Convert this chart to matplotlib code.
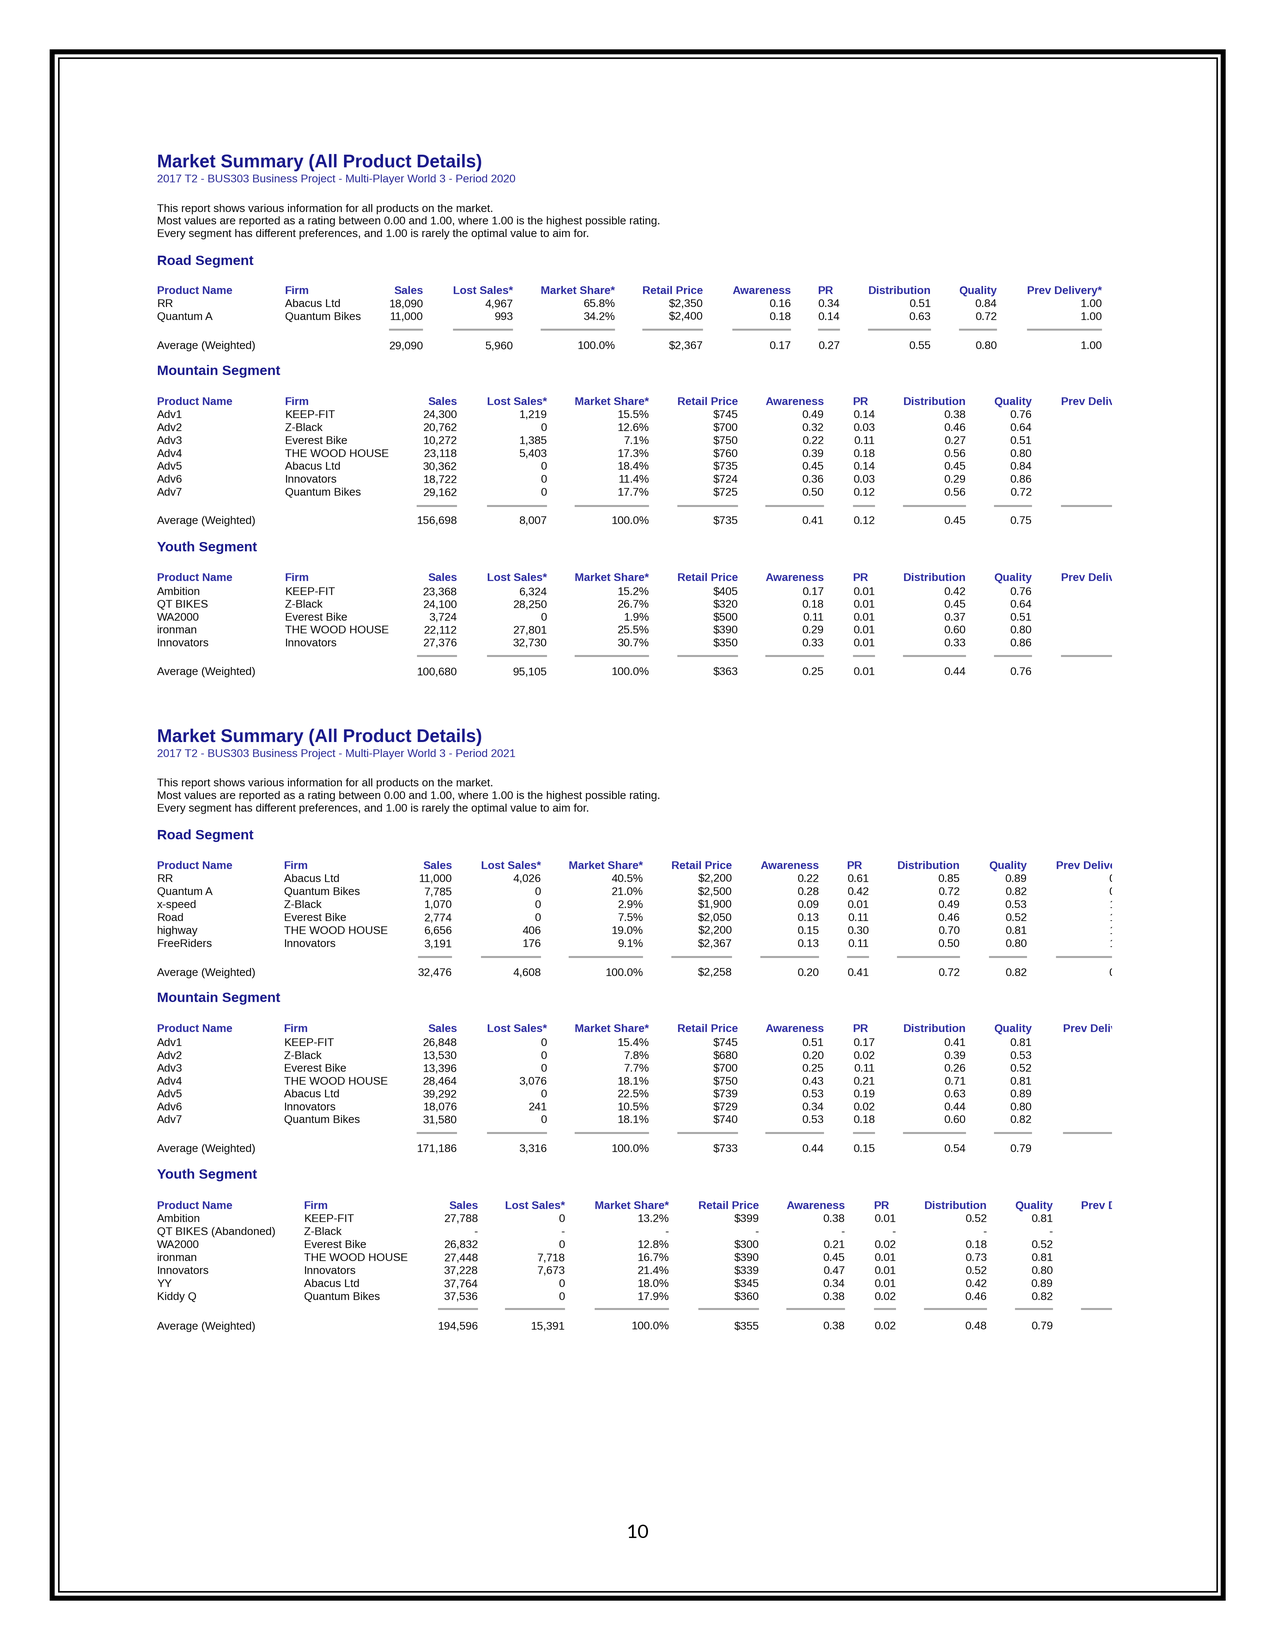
import matplotlib
matplotlib.use("Agg")
import matplotlib.pyplot as plt
from matplotlib.patches import Rectangle
from PIL import Image

# ---------------- data ----------------
columns = ["Sales", "Lost Sales*", "Market Share*", "Retail Price", "Awareness",
           "PR", "Distribution", "Quality", "Prev Delivery*"]

titles = ["Market Summary (All Product Details)", "Market Summary (All Product Details)"]
subtitles = ["2017 T2 - BUS303 Business Project - Multi-Player World 3 - Period 2020",
             "2017 T2 - BUS303 Business Project - Multi-Player World 3 - Period 2021"]
description = ["This report shows various information for all products on the market.",
               "Most values are reported as a rating between 0.00 and 1.00, where 1.00 is the highest possible rating.",
               "Every segment has different preferences, and 1.00 is rarely the optimal value to aim for."]
segments = ["Road Segment", "Mountain Segment", "Youth Segment"]

# --- Period 2020, Road ---
road20_products = ["RR", "Quantum A"]
road20_firms = ["Abacus Ltd", "Quantum Bikes"]
road20_sales = [18090, 11000]
road20_lost = [4967, 993]
road20_share = [65.8, 34.2]
road20_price = [2350, 2400]
road20_aware = [0.16, 0.18]
road20_pr = [0.34, 0.14]
road20_dist = [0.51, 0.63]
road20_qual = [0.84, 0.72]
road20_prev = [1.00, 1.00]
road20_avg = [29090, 5960, 100.0, 2367, 0.17, 0.27, 0.55, 0.80, 1.00]

# --- Period 2020, Mountain ---
mtn20_products = ["Adv1", "Adv2", "Adv3", "Adv4", "Adv5", "Adv6", "Adv7"]
mtn20_firms = ["KEEP-FIT", "Z-Black", "Everest Bike", "THE WOOD HOUSE", "Abacus Ltd", "Innovators", "Quantum Bikes"]
mtn20_sales = [24300, 20762, 10272, 23118, 30362, 18722, 29162]
mtn20_lost = [1219, 0, 1385, 5403, 0, 0, 0]
mtn20_share = [15.5, 12.6, 7.1, 17.3, 18.4, 11.4, 17.7]
mtn20_price = [745, 700, 750, 760, 735, 724, 725]
mtn20_aware = [0.49, 0.32, 0.22, 0.39, 0.45, 0.36, 0.50]
mtn20_pr = [0.14, 0.03, 0.11, 0.18, 0.14, 0.03, 0.12]
mtn20_dist = [0.38, 0.46, 0.27, 0.56, 0.45, 0.29, 0.56]
mtn20_qual = [0.76, 0.64, 0.51, 0.80, 0.84, 0.86, 0.72]
mtn20_avg = [156698, 8007, 100.0, 735, 0.41, 0.12, 0.45, 0.75, None]

# --- Period 2020, Youth ---
youth20_products = ["Ambition", "QT BIKES", "WA2000", "ironman", "Innovators"]
youth20_firms = ["KEEP-FIT", "Z-Black", "Everest Bike", "THE WOOD HOUSE", "Innovators"]
youth20_sales = [23368, 24100, 3724, 22112, 27376]
youth20_lost = [6324, 28250, 0, 27801, 32730]
youth20_share = [15.2, 26.7, 1.9, 25.5, 30.7]
youth20_price = [405, 320, 500, 390, 350]
youth20_aware = [0.17, 0.18, 0.11, 0.29, 0.33]
youth20_pr = [0.01, 0.01, 0.01, 0.01, 0.01]
youth20_dist = [0.42, 0.45, 0.37, 0.60, 0.33]
youth20_qual = [0.76, 0.64, 0.51, 0.80, 0.86]
youth20_avg = [100680, 95105, 100.0, 363, 0.25, 0.01, 0.44, 0.76, None]

# --- Period 2021, Road ---
road21_products = ["RR", "Quantum A", "x-speed", "Road", "highway", "FreeRiders"]
road21_firms = ["Abacus Ltd", "Quantum Bikes", "Z-Black", "Everest Bike", "THE WOOD HOUSE", "Innovators"]
road21_sales = [11000, 7785, 1070, 2774, 6656, 3191]
road21_lost = [4026, 0, 0, 0, 406, 176]
road21_share = [40.5, 21.0, 2.9, 7.5, 19.0, 9.1]
road21_price = [2200, 2500, 1900, 2050, 2200, 2367]
road21_aware = [0.22, 0.28, 0.09, 0.13, 0.15, 0.13]
road21_pr = [0.61, 0.42, 0.01, 0.11, 0.30, 0.11]
road21_dist = [0.85, 0.72, 0.49, 0.46, 0.70, 0.50]
road21_qual = [0.89, 0.82, 0.53, 0.52, 0.81, 0.80]
road21_prev = [0.96, 0.98, 1.00, 1.00, 1.00, 1.00]
road21_avg = [32476, 4608, 100.0, 2258, 0.20, 0.41, 0.72, 0.82, 0.98]

# --- Period 2021, Mountain ---
mtn21_products = ["Adv1", "Adv2", "Adv3", "Adv4", "Adv5", "Adv6", "Adv7"]
mtn21_firms = ["KEEP-FIT", "Z-Black", "Everest Bike", "THE WOOD HOUSE", "Abacus Ltd", "Innovators", "Quantum Bikes"]
mtn21_sales = [26848, 13530, 13396, 28464, 39292, 18076, 31580]
mtn21_lost = [0, 0, 0, 3076, 0, 241, 0]
mtn21_share = [15.4, 7.8, 7.7, 18.1, 22.5, 10.5, 18.1]
mtn21_price = [745, 680, 700, 750, 739, 729, 740]
mtn21_aware = [0.51, 0.20, 0.25, 0.43, 0.53, 0.34, 0.53]
mtn21_pr = [0.17, 0.02, 0.11, 0.21, 0.19, 0.02, 0.18]
mtn21_dist = [0.41, 0.39, 0.26, 0.71, 0.63, 0.44, 0.60]
mtn21_qual = [0.81, 0.53, 0.52, 0.81, 0.89, 0.80, 0.82]
mtn21_avg = [171186, 3316, 100.0, 733, 0.44, 0.15, 0.54, 0.79, None]

# --- Period 2021, Youth ---
youth21_products = ["Ambition", "QT BIKES (Abandoned)", "WA2000", "ironman", "Innovators", "YY", "Kiddy Q"]
youth21_firms = ["KEEP-FIT", "Z-Black", "Everest Bike", "THE WOOD HOUSE", "Innovators", "Abacus Ltd", "Quantum Bikes"]
youth21_sales = [27788, None, 26832, 27448, 37228, 37764, 37536]
youth21_lost = [0, None, 0, 7718, 7673, 0, 0]
youth21_share = [13.2, None, 12.8, 16.7, 21.4, 18.0, 17.9]
youth21_price = [399, None, 300, 390, 339, 345, 360]
youth21_aware = [0.38, None, 0.21, 0.45, 0.47, 0.34, 0.38]
youth21_pr = [0.01, None, 0.02, 0.01, 0.01, 0.01, 0.02]
youth21_dist = [0.52, None, 0.18, 0.73, 0.52, 0.42, 0.46]
youth21_qual = [0.81, None, 0.52, 0.81, 0.80, 0.89, 0.82]
youth21_avg = [194596, 15391, 100.0, 355, 0.38, 0.02, 0.48, 0.79, None]

page_number = "10"

# ---------------- figure ----------------
W, H = 1275, 1650
CLIP_X = 1112
SS = 3  # supersampling factor for smooth, evenly placed text
fig = plt.figure(figsize=(W / 100, H / 100), dpi=100)
fig.patch.set_facecolor("white")
ax = fig.add_axes([0, 0, 1, 1])
ax.set_xlim(0, W); ax.set_ylim(H, 0); ax.axis("off")
tax = fig.add_axes([0, 0, CLIP_X / W, 1])
tax.set_xlim(0, CLIP_X); tax.set_ylim(H, 0); tax.axis("off")

FONT = "Liberation Sans"
TITLE_C = "#1b1b8c"
HEAD_C = "#2f2fa2"
SUB_C = "#2a2a98"
BODY_C = "#0a0a0a"
LINE_C = "#a6a6a6"

hdr = dict(fontsize=8, fontweight="bold", color=HEAD_C, family=FONT, va="baseline", clip_on=True)
body = dict(fontsize=8, color=BODY_C, family=FONT, va="baseline", clip_on=True)


def f_int(v):
    return f"{v:,}"


def f_pct(v):
    return f"{v:.1f}%"


def f_usd(v):
    return f"${v:,}"


def f_rate(v):
    return f"{v:.2f}"


formatters = [f_int, f_int, f_pct, f_usd, f_rate, f_rate, f_rate, f_rate, f_rate]


def fmt(i, v):
    return "-" if v is None else formatters[i](v)


# page border
ax.add_patch(Rectangle((52, 51.5), 1223 - 52, 1598 - 51.5, fill=False, lw=3.6, ec="black"))
ax.add_patch(Rectangle((58.5, 58), 1217 - 58.5, 1591.5 - 58, fill=False, lw=1.1, ec="black"))


def draw_header_block(k, dy):
    ax.text(157, 167.5 + dy, titles[k], fontsize=13.1, fontweight="bold", color=TITLE_C,
            family=FONT, va="baseline")
    ax.text(157, 182.5 + dy, subtitles[k], fontsize=8.05, color=SUB_C, family=FONT, va="baseline")
    for j, line in enumerate(description):
        ax.text(157, 212 + dy + 12.5 * j, line, fontsize=8.05, color=BODY_C, family=FONT, va="baseline")


pending_lines = []


def draw_table(seg, seg_y, products, firms, series, avg, layout):
    ax.text(157, seg_y, segments[seg], fontsize=9.95, fontweight="bold", color=TITLE_C,
            family=FONT, va="baseline")
    px, fx = layout["product"], layout["firm"]
    rights = layout["rights"]
    yh = layout["y_head"]
    tax.text(px, yh, "Product Name", ha="left", **hdr)
    tax.text(fx, yh, "Firm", ha="left", **hdr)
    col_texts = []
    for i, name in enumerate(columns):
        if name == "PR":
            t = tax.text(layout["pr_left"], yh, name, ha="left", **hdr)
        else:
            t = tax.text(rights[i], yh, name, ha="right", **hdr)
        col_texts.append([t])
    for j, (p, f) in enumerate(zip(products, firms)):
        y = layout["y_row0"] + j * layout["dy"]
        tax.text(px, y, p, ha="left", **body)
        tax.text(fx, y, f, ha="left", **body)
        for i in range(len(columns)):
            vals = series[i]
            if not vals:
                continue
            col_texts[i].append(tax.text(rights[i], y, fmt(i, vals[j]), ha="right", **body))
    ya = layout["y_avg"]
    tax.text(px, ya, "Average (Weighted)", ha="left", **body)
    for i in range(len(columns)):
        if avg[i] is not None:
            col_texts[i].append(tax.text(rights[i], ya, fmt(i, avg[i]), ha="right", **body))
    pending_lines.append((col_texts, layout["y_line"]))


# ---- block 2020 ----
draw_header_block(0, 0)
draw_table(0, 265,
           road20_products, road20_firms,
           [road20_sales, road20_lost, road20_share, road20_price, road20_aware,
            road20_pr, road20_dist, road20_qual, road20_prev], road20_avg,
           dict(product=157, firm=285, rights=[423, 513, 615, 703, 791, 840, 931, 997, 1102],
                pr_left=818, y_head=294, y_row0=307, dy=13, y_line=329.5, y_avg=349))
draw_table(1, 375,
           mtn20_products, mtn20_firms,
           [mtn20_sales, mtn20_lost, mtn20_share, mtn20_price, mtn20_aware,
            mtn20_pr, mtn20_dist, mtn20_qual, []], mtn20_avg,
           dict(product=157, firm=285, rights=[457, 547, 649, 738, 824, 875, 966, 1032, 1136],
                pr_left=853, y_head=405, y_row0=418, dy=12.95, y_line=506, y_avg=524))
draw_table(2, 551.5,
           youth20_products, youth20_firms,
           [youth20_sales, youth20_lost, youth20_share, youth20_price, youth20_aware,
            youth20_pr, youth20_dist, youth20_qual, []], youth20_avg,
           dict(product=157, firm=285, rights=[457, 547, 649, 738, 824, 875, 966, 1032, 1136],
                pr_left=853, y_head=581, y_row0=595, dy=12.8, y_line=656, y_avg=675))

# ---- block 2021 ----
OFF = 574.5
draw_header_block(1, OFF)
draw_table(0, 839.5,
           road21_products, road21_firms,
           [road21_sales, road21_lost, road21_share, road21_price, road21_aware,
            road21_pr, road21_dist, road21_qual, road21_prev], road21_avg,
           dict(product=157, firm=284, rights=[452, 541, 643, 732, 819, 869, 960, 1027, 1131],
                pr_left=847, y_head=869, y_row0=882, dy=13, y_line=957, y_avg=976))
draw_table(1, 1002,
           mtn21_products, mtn21_firms,
           [mtn21_sales, mtn21_lost, mtn21_share, mtn21_price, mtn21_aware,
            mtn21_pr, mtn21_dist, mtn21_qual, []], mtn21_avg,
           dict(product=157, firm=284, rights=[457, 547, 649, 738, 824, 875, 966, 1032, 1138],
                pr_left=853, y_head=1032, y_row0=1046, dy=12.85, y_line=1133, y_avg=1152))
draw_table(2, 1178.5,
           youth21_products, youth21_firms,
           [youth21_sales, youth21_lost, youth21_share, youth21_price, youth21_aware,
            youth21_pr, youth21_dist, youth21_qual, []], youth21_avg,
           dict(product=157, firm=304, rights=[478, 565, 669, 759, 845, 896, 987, 1053, 1156],
                pr_left=874, y_head=1209, y_row0=1222, dy=13, y_line=1309, y_avg=1329.5))

# underline rules sized to each column's text extent
renderer = fig.canvas.get_renderer()
for col_texts, yl in pending_lines:
    for texts in col_texts:
        bbs = [t.get_window_extent(renderer) for t in texts]
        x0 = min(b.x0 for b in bbs)
        x1 = max(b.x1 for b in bbs)
        tax.plot([x0, x1], [yl, yl], color=LINE_C, lw=1.4, solid_capstyle="butt")

tax.set_xlim(0, CLIP_X); tax.set_ylim(H, 0)

ax.text(637.5, 1533, page_number, fontsize=13.8, family="Lato", color="black",
        ha="center", va="center")

fig.savefig("out.png", dpi=100 * SS, facecolor="white")
img = Image.open("out.png").convert("RGB")
img = img.resize((W, H), Image.LANCZOS)
img.save("out.png")
